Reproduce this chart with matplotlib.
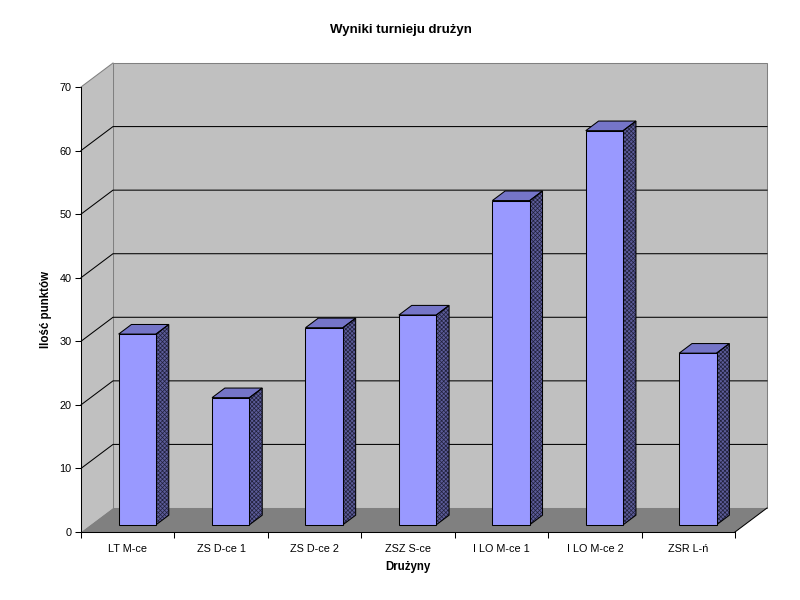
import matplotlib
matplotlib.use("Agg")
import matplotlib.pyplot as plt
from matplotlib.patches import Polygon

categories = ["LT M-ce", "ZS D-ce 1", "ZS D-ce 2", "ZSZ S-ce", "I LO M-ce 1", "I LO M-ce 2", "ZSR L-ń"]
values = [30, 20, 31, 33, 51, 62, 27]
y_ticks = [0, 10, 20, 30, 40, 50, 60, 70]
title = "Wyniki turnieju drużyn"
xlabel = "Drużyny"
ylabel = "Ilość punktów"

plt.rcParams["font.family"] = ["Liberation Sans", "DejaVu Sans"]
plt.rcParams["hatch.linewidth"] = 0.5

W, H = 800, 600
L, R, T, B = 81.0, 735.0, 87.0, 532.0
fig = plt.figure(figsize=(W / 100, H / 100), dpi=100, facecolor="white")
ax = fig.add_axes([L / W, 1 - B / H, (R - L) / W, (B - T) / H])
ax.set_xlim(0, len(categories))
ax.set_ylim(0, 70)

px_x = (R - L) / len(categories)
px_y = (B - T) / 70
DX, DY = 32 / px_x, 24 / px_y      # depth of the 3-D box, data units
n = len(categories)
LW = 0.75


def poly(pts, z, fc="none", ec="none", lw=0.0, hatch=None):
    ax.add_patch(Polygon(pts, closed=True, facecolor=fc, edgecolor=ec, linewidth=lw,
                         zorder=z, clip_on=False, joinstyle="miter", hatch=hatch))


# walls and floor
poly([(DX, DY), (n + DX, DY), (n + DX, 70 + DY), (DX, 70 + DY)], 1, "#c0c0c0", "#808080", LW)
poly([(0, 0), (DX, DY), (DX, 70 + DY), (0, 70)], 1, "#c0c0c0")
poly([(0, 0), (n, 0), (n + DX, DY), (DX, DY)], 1.5, "#808080")
ax.plot([0, DX], [70, 70 + DY], color="#808080", lw=LW, zorder=1.6, clip_on=False)
ax.plot([n, n + DX], [0, DY], color="black", lw=LW, zorder=1.6, clip_on=False)

# gridlines
for v in y_ticks[1:]:
    if v == 70:
        continue
    ax.plot([0, DX, n + DX], [v, v + DY, v + DY], color="black", lw=LW, zorder=2, clip_on=False,
            solid_joinstyle="miter")

# bars
bw = 0.4
f0, f1 = 0.30, 0.70      # bar's front and back position within the box depth
for i, v in enumerate(values):
    x0 = i + 0.5 - bw / 2 + DX * f0
    x1 = x0 + bw
    y0 = DY * f0
    y1 = v + y0
    ddx, ddy = DX * (f1 - f0), DY * (f1 - f0)
    side = [(x1, y0), (x1 + ddx, y0 + ddy), (x1 + ddx, y1 + ddy), (x1, y1)]
    top = [(x0, y1), (x1, y1), (x1 + ddx, y1 + ddy), (x0 + ddx, y1 + ddy)]
    poly(side, 3, "#5c5c9a", "#20203a", 0.0, hatch="xxxxxxxx")
    poly(side, 3.1, "none", "black", LW)
    poly(top, 3, "#7575c8", "black", LW)
ax.bar([i + 0.5 + DX * f0 for i in range(n)], values, width=bw, bottom=DY * f0,
       color="#9999ff", edgecolor="black", linewidth=LW, zorder=4, clip_on=False)

for s in ("top", "right"):
    ax.spines[s].set_visible(False)
for s in ("left", "bottom"):
    ax.spines[s].set_linewidth(LW)
    ax.spines[s].set_zorder(5)

ax.patch.set_alpha(0)
ax.set_yticks(y_ticks)
ax.set_xticks(range(n + 1))
ax.set_xticklabels([])
ax.set_xticks([i + 0.5 for i in range(n)], minor=True)
ax.set_xticklabels(categories, minor=True, fontsize=7.8)
ax.tick_params(axis="x", which="major", length=4, width=LW, direction="out")
ax.tick_params(axis="x", which="minor", length=0, pad=9)
ax.tick_params(axis="y", length=4, width=LW, direction="out", labelsize=7.8, pad=3)

fig.text(400.5 / W, 1 - 29.5 / H, title, ha="center", va="center", fontsize=9.5, fontweight="bold")
fig.text(407.5 / W, 1 - 567 / H, xlabel, ha="center", va="center", fontsize=8.3, fontweight="bold")
fig.text(45.5 / W, 1 - 309 / H, ylabel, ha="center", va="center", rotation=90, fontsize=8.3, fontweight="bold")

fig.savefig("out.png", dpi=100)
